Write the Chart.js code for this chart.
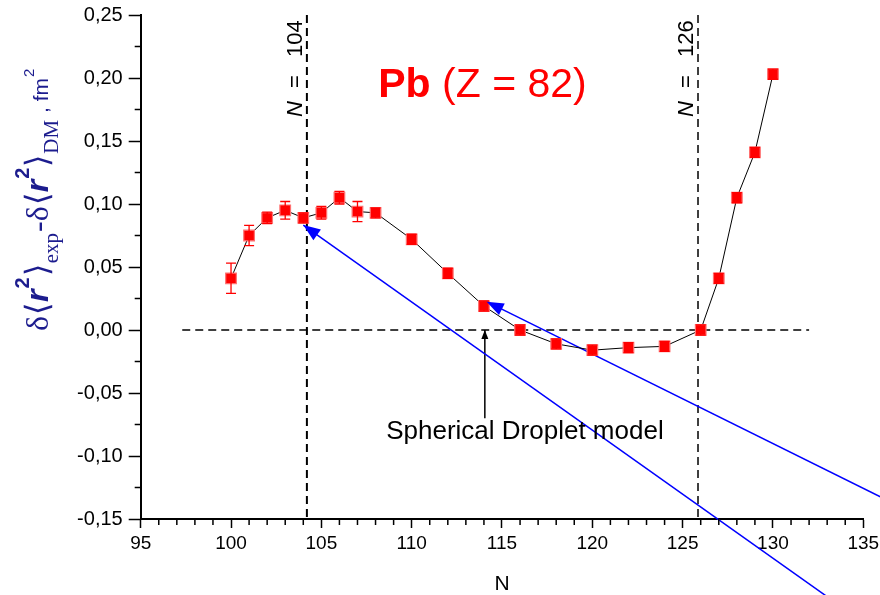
<!DOCTYPE html>
<html><head><meta charset="utf-8">
<script src="https://cdn.jsdelivr.net/npm/chart.js@4.4.1/dist/chart.umd.min.js"></script>
<style>html,body{margin:0;padding:0;background:#fff;}#wrap{width:880px;height:595px;position:relative;}</style>
</head><body><div id="wrap"><canvas id="c" width="880" height="595" style="width:880px;height:595px"></canvas></div>
<script>
// ---- data ----
const neutronNumbers = [100,101,102,103,104,105,106,107,108,110,112,114,116,118,120,122,124,126,127,128,129,130];
const deltaR2 = [0.041,0.075,0.089,0.095,0.089,0.093,0.105,0.094,0.093,0.072,0.045,0.019,0.000,-0.011,-0.016,-0.014,-0.013,0.000,0.041,0.105,0.141,0.203];
const deltaR2Err = [0.012,0.008,0.0045,0.007,0.004,0.005,0.005,0.008,0.004,0.004,0.004,0.004,0.004,0.004,0.004,0.004,0.004,0.004,0.004,0.004,0.004,0.004];
const xRange = [95, 135];
const yRange = [-0.15, 0.25];
const shellN = [104.2, 125.85];
const shellLabels = ['104', '126'];
const zeroLineN = [97.3, 132];
const blueLineLowerN = [104.0, 134.5];
const blueLineLowerY = [0.0833, -0.2269];
const blueLineUpperN = [114.15, 137.5];
const blueLineUpperY = [0.0225, -0.1435];
const dropletArrowN = [114.05, 114.05];
const dropletArrowY = [-0.07, 0.0];
const titleMain = 'Pb';
const titleSub = ' (Z = 82)';
const dropletLabel = 'Spherical Droplet model';
const xTitle = 'N';

const pts = (xs, ys) => xs.map((x, i) => ({x, y: ys[i]}));
const SANS = '"Liberation Sans", Arial, sans-serif';
const SERIF = '"Liberation Serif", "Times New Roman", serif';
const BLUE_T = '#1c1c8e';

const customDraw = {
  id: 'customDraw',
  afterDatasetsDraw(chart) {
    const ctx = chart.ctx, xs = chart.scales.x, ys = chart.scales.y;
    ctx.save();
    // error bars
    ctx.strokeStyle = '#ff0000'; ctx.lineWidth = 1.3;
    neutronNumbers.forEach((n, i) => {
      const px = xs.getPixelForValue(n);
      const y1 = ys.getPixelForValue(deltaR2[i] + deltaR2Err[i]);
      const y2 = ys.getPixelForValue(deltaR2[i] - deltaR2Err[i]);
      ctx.beginPath();
      ctx.moveTo(px, y1); ctx.lineTo(px, y2);
      ctx.moveTo(px - 5, y1); ctx.lineTo(px + 5, y1);
      ctx.moveTo(px - 5, y2); ctx.lineTo(px + 5, y2);
      ctx.stroke();
    });
    // arrow heads
    const head = (x0, y0, x1, y1, len, half, color) => {
      const tx = xs.getPixelForValue(x0), ty = ys.getPixelForValue(y0);
      const fx = xs.getPixelForValue(x1), fy = ys.getPixelForValue(y1);
      const a = Math.atan2(ty - fy, tx - fx);
      ctx.fillStyle = color;
      ctx.beginPath();
      ctx.moveTo(tx, ty);
      ctx.lineTo(tx - len * Math.cos(a) + half * Math.sin(a), ty - len * Math.sin(a) - half * Math.cos(a));
      ctx.lineTo(tx - len * Math.cos(a) - half * Math.sin(a), ty - len * Math.sin(a) + half * Math.cos(a));
      ctx.closePath(); ctx.fill();
    };
    head(blueLineLowerN[0], blueLineLowerY[0], blueLineLowerN[1], blueLineLowerY[1], 17, 6.5, '#0000ff');
    head(blueLineUpperN[0], blueLineUpperY[0], blueLineUpperN[1], blueLineUpperY[1], 17, 6.5, '#0000ff');
    head(dropletArrowN[1], dropletArrowY[1], dropletArrowN[0], dropletArrowY[0], 9, 3.5, '#000000');
    ctx.restore();
  },
  afterDraw(chart) {
    const ctx = chart.ctx, xs = chart.scales.x, ys = chart.scales.y;
    const ca = chart.chartArea;
    ctx.save();
    // minor ticks
    ctx.strokeStyle = '#000'; ctx.lineWidth = 1.5;
    ctx.beginPath();
    for (let n = xRange[0]; n <= xRange[1]; n++) {
      if (n % 5 === 0) continue;
      const px = xs.getPixelForValue(n);
      ctx.moveTo(px, ca.bottom); ctx.lineTo(px, ca.bottom + 6);
    }
    for (let k = 0; k <= 16; k++) {
      if (k % 2 === 0) continue;
      const v = yRange[0] + k * 0.025;
      const py = ys.getPixelForValue(v);
      ctx.moveTo(ca.left - 6, py); ctx.lineTo(ca.left, py);
    }
    ctx.stroke();

    // shell labels (rotated)
    shellN.forEach((n, i) => {
      const px = xs.getPixelForValue(n) - 5;
      ctx.save();
      ctx.translate(px, 0);
      ctx.rotate(-Math.PI / 2);
      ctx.fillStyle = '#000';
      ctx.textBaseline = 'alphabetic';
      ctx.textAlign = 'left';
      ctx.font = 'italic 22px ' + SANS;
      ctx.fillText('N', -117, 0);
      ctx.font = '22px ' + SANS;
      ctx.fillText('=', -88, 0);
      ctx.fillText(shellLabels[i], -57, 0);
      ctx.restore();
    });

    // title
    ctx.fillStyle = '#ff0000';
    ctx.textBaseline = 'alphabetic'; ctx.textAlign = 'left';
    let tx = xs.getPixelForValue(108.15), ty = ys.getPixelForValue(0.185);
    ctx.font = 'bold 41px ' + SANS;
    ctx.fillText(titleMain, tx, ty);
    tx += ctx.measureText(titleMain).width;
    ctx.font = '41px ' + SANS;
    ctx.fillText(titleSub, tx, ty);

    // droplet label
    ctx.fillStyle = '#000';
    ctx.font = '26px ' + SANS;
    ctx.textAlign = 'center';
    ctx.fillText(dropletLabel, xs.getPixelForValue(116.27), ys.getPixelForValue(-0.0865));

    // y title (rich text, rotated)
    const runs = [
      {t: 'δ', f: '32px ' + SERIF, dy: 0},
      {t: '⟨', f: '32px ' + SERIF, dy: 0},
      {t: 'r', f: 'italic bold 32px ' + SANS, dy: 0},
      {t: '2', f: 'bold 20px ' + SANS, dy: -19},
      {t: '⟩', f: '32px ' + SERIF, dy: 0},
      {t: 'exp', f: '21px ' + SERIF, dy: 10},
      {t: '-δ', f: '32px ' + SERIF, dy: 0},
      {t: '⟨', f: '32px ' + SERIF, dy: 0},
      {t: 'r', f: 'italic bold 32px ' + SANS, dy: 0},
      {t: '2', f: 'bold 20px ' + SANS, dy: -19},
      {t: '⟩', f: '32px ' + SERIF, dy: 0},
      {t: 'DM', f: '21px ' + SERIF, dy: 10},
      {t: ' , fm', f: '21px ' + SANS, dy: 0},
      {t: '2', f: '15px ' + SANS, dy: -14}
    ];
    ctx.save();
    ctx.translate(48, 331);
    ctx.rotate(-Math.PI / 2);
    ctx.fillStyle = BLUE_T;
    ctx.textAlign = 'left'; ctx.textBaseline = 'alphabetic';
    let cx = 0;
    runs.forEach(r => {
      ctx.font = r.f;
      ctx.fillText(r.t, cx, r.dy);
      cx += ctx.measureText(r.t).width + 1;
    });
    ctx.restore();
    ctx.restore();
  }
};

const lineDs = (data, color, width, dash, order, clip) => ({
  data, showLine: true, borderColor: color, borderWidth: width, borderDash: dash,
  pointRadius: 0, pointHoverRadius: 0, fill: false, order, clip: clip
});

new Chart(document.getElementById('c'), {
  type: 'scatter',
  data: {
    datasets: [
      {
        data: pts(neutronNumbers, deltaR2), showLine: true,
        borderColor: '#000', borderWidth: 1,
        pointStyle: 'rect', pointRadius: 7.5, pointHoverRadius: 7.5,
        pointBackgroundColor: '#ff0000', pointBorderColor: '#ff7070', pointBorderWidth: 1.2,
        order: 0
      },
      lineDs(pts(zeroLineN, [0, 0]), '#000', 1.5, [8, 5], 5, false),
      lineDs(pts([shellN[0], shellN[0]], yRange.slice().reverse()), '#000', 2, [8, 5], 5, false),
      lineDs(pts([shellN[1], shellN[1]], yRange.slice().reverse()), '#000', 1.5, [8, 5], 5, false),
      lineDs(pts(dropletArrowN, dropletArrowY), '#000', 1.5, [], 4, false),
      lineDs(pts(blueLineLowerN, blueLineLowerY), '#0000ff', 1.5, [], 3, false),
      lineDs(pts(blueLineUpperN, blueLineUpperY), '#0000ff', 1.5, [], 3, false)
    ]
  },
  options: {
    responsive: false, animation: false, events: [],
    devicePixelRatio: 1,
    layout: {padding: {top: 15, right: 16.7, left: 0, bottom: 0}},
    plugins: {legend: {display: false}, tooltip: {enabled: false}},
    scales: {
      x: {
        type: 'linear', min: xRange[0], max: xRange[1],
        afterFit: s => { s.height = 76; s.paddingLeft = 0; s.paddingRight = 0; },
        ticks: {stepSize: 5, color: '#000', font: {family: SANS, size: 19}, padding: 4, maxRotation: 0},
        grid: {drawOnChartArea: false, drawTicks: true, tickLength: 9, tickColor: '#000', tickWidth: 1.5},
        border: {display: true, color: '#000', width: 2},
        title: {display: true, text: xTitle, color: '#000', font: {family: SANS, size: 21, lineHeight: 1}, padding: 0}
      },
      y: {
        type: 'linear', min: yRange[0], max: yRange[1],
        afterFit: s => { s.width = 140.7; s.paddingTop = 0; s.paddingBottom = 0; },
        ticks: {stepSize: 0.05, color: '#000', font: {family: SANS, size: 20}, padding: 6,
          callback: v => v.toFixed(2).replace('.', ',').replace(/^-0,00$/, '0,00')},
        grid: {drawOnChartArea: false, drawTicks: true, tickLength: 12, tickColor: '#000', tickWidth: 1.5},
        border: {display: true, color: '#000', width: 2}
      }
    }
  },
  plugins: [customDraw]
});
</script></body></html>
